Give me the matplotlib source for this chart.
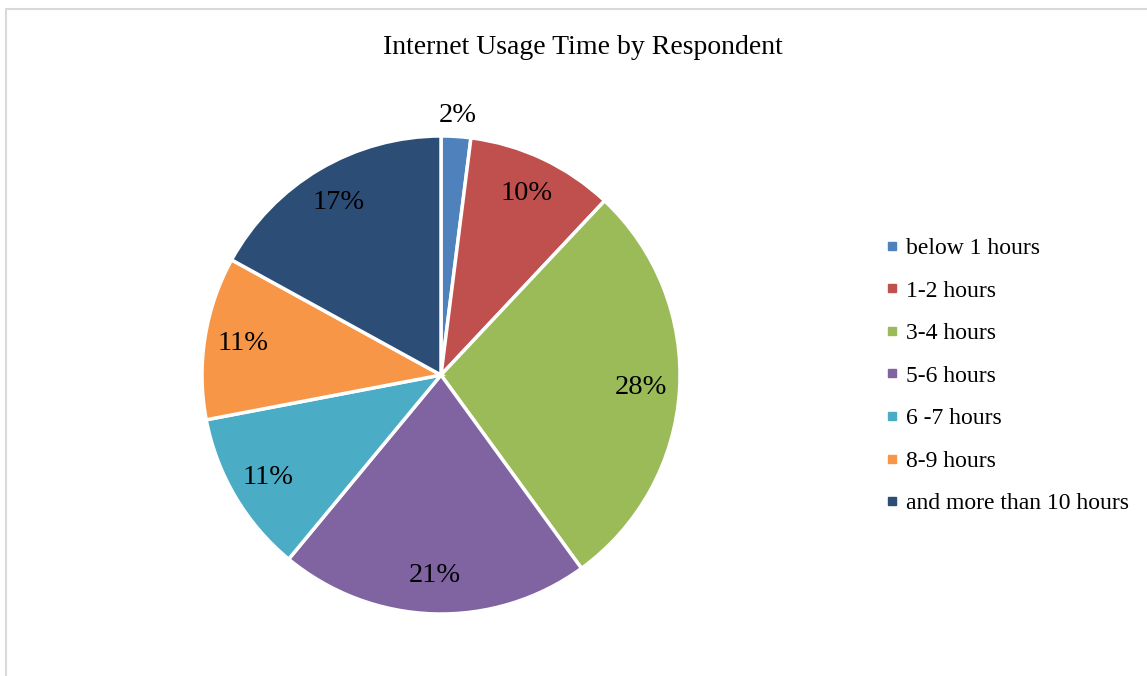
import matplotlib.pyplot as plt
from matplotlib.lines import Line2D
from matplotlib.patches import Rectangle
import numpy as np

plt.rcParams['font.family'] = ['Liberation Serif', 'DejaVu Serif']

categories = ['below 1 hours', '1-2 hours', '3-4 hours', '5-6 hours',
              '6 -7 hours', '8-9 hours', 'and more than 10 hours']
shares = [2, 10, 28, 21, 11, 11, 17]
colors = ['#4F81BD', '#C0504D', '#9BBB59', '#8064A2', '#4BACC6', '#F79646', '#2C4D75']

fig = plt.figure(figsize=(11.47, 6.76), dpi=100)
# light outer frame of the chart area (right and bottom run off the image)
fig.patches.append(Rectangle((6 / 1147, -0.1), 1.2, 1.1 - 9 / 676, transform=fig.transFigure,
                             fill=False, edgecolor='#D9D9D9', linewidth=1.5))

# pie centred at (441, 375) px, radius ~239 px
ax = fig.add_axes([(441 - 239) / 1147, (676 - 375 - 239) / 676, 478 / 1147, 478 / 676])
wedges, _ = ax.pie(shares, colors=colors, startangle=90, counterclock=False,
                   wedgeprops=dict(edgecolor='white', linewidth=2.5), radius=1)
ax.set_xlim(-1, 1)
ax.set_ylim(-1, 1)
ax.set_aspect('equal')

# percentage labels, small slice placed outside
for w, v in zip(wedges, shares):
    mid = np.deg2rad((w.theta1 + w.theta2) / 2)
    r = 1.09 if v < 5 else 0.84
    ax.text(r * np.cos(mid), r * np.sin(mid), f'{v}%', ha='center', va='center',
            fontsize=20.5)

fig.text(583 / 1147, 1 - 48 / 676, 'Internet Usage Time by Respondent',
         ha='center', va='center', fontsize=20)

handles = [Line2D([], [], marker='s', ls='', color=c, markersize=5.5) for c in colors]
fig.legend(handles, categories, loc='center left', bbox_to_anchor=(885 / 1147, 1 - 376 / 676),
           frameon=False, fontsize=17, handlelength=0.6, handletextpad=0.3,
           labelspacing=0.89, borderpad=0, borderaxespad=0)

fig.savefig('out.png', dpi=100)
